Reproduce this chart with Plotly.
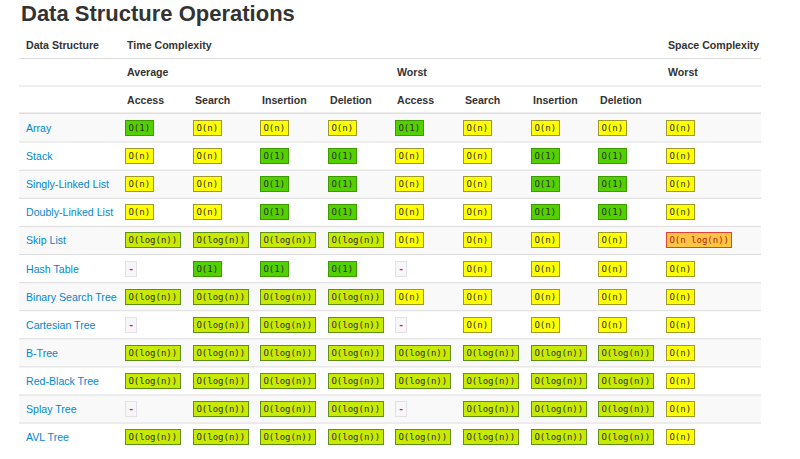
import plotly.graph_objects as go

# --- data ---------------------------------------------------------------
structures = [
    "Array", "Stack", "Singly-Linked List", "Doubly-Linked List", "Skip List",
    "Hash Table", "Binary Search Tree", "Cartesian Tree", "B-Tree",
    "Red-Black Tree", "Splay Tree", "AVL Tree",
]
op_labels = ["Access", "Search", "Insertion", "Deletion",
             "Access", "Search", "Insertion", "Deletion", ""]

L, N, C, D, NL = "O(log(n))", "O(n)", "O(1)", "-", "O(n log(n))"

avg_access = [C, N, N, N, L, D, L, D, L, L, D, L]
avg_search = [N, N, N, N, L, C, L, L, L, L, L, L]
avg_insert = [N, C, C, C, L, C, L, L, L, L, L, L]
avg_delete = [N, C, C, C, L, C, L, L, L, L, L, L]
worst_access = [C, N, N, N, N, D, N, D, L, L, D, L]
worst_search = [N, N, N, N, N, N, N, N, L, L, L, L]
worst_insert = [N, C, C, C, N, N, N, N, L, L, L, L]
worst_delete = [N, C, C, C, N, N, N, N, L, L, L, L]
space_worst = [N, N, N, N, NL, N, N, N, N, N, N, N]

columns = [avg_access, avg_search, avg_insert, avg_delete,
           worst_access, worst_search, worst_insert, worst_delete, space_worst]

# badge style per complexity: fill, border, text colour
badge_style = {
    C: ("#53d000", "#3d9a00", "#2e2e2e"),
    L: ("#c8ea00", "#5f8f1c", "#2e2e2e"),
    N: ("#ffff00", "#9c9a2c", "#2e2e2e"),
    NL: ("#ffc543", "#e0413a", "#b5201c"),
    D: ("#f7f7f9", "#e1e1e8", "#dd1144"),
}

# --- layout constants ---------------------------------------------------
W, H = 800, 459
TABLE_L, TABLE_R = 19, 761
NAME_X = 24
COL_X0, COL_W = 125, 67.6
HEAD_Y = [45, 72, 100]
BODY_TOP, ROW_H = 114, 28.1
SANS = "Liberation Sans"
MONO = "DejaVu Sans Mono"
CHAR_W = 5.4

shapes = []
annotations = []


def text(x, y, s, size=10.6, color="#333333", bold=True):
    annotations.append(dict(
        x=x, y=y, text=s, showarrow=False, xanchor="left", yanchor="middle",
        font=dict(family=SANS, size=size, color=color,
                  weight="bold" if bold else "normal"),
    ))


# title
text(TABLE_L, 13, "Data Structure Operations", size=22)

# header rows
text(NAME_X, HEAD_Y[0], "Data Structure")
text(COL_X0, HEAD_Y[0], "Time Complexity")
text(COL_X0 + 8 * COL_W, HEAD_Y[0], "Space Complexity")
text(COL_X0, HEAD_Y[1], "Average")
text(COL_X0 + 4 * COL_W, HEAD_Y[1], "Worst")
text(COL_X0 + 8 * COL_W, HEAD_Y[1], "Worst")
for j, lab in enumerate(op_labels):
    if lab:
        text(COL_X0 + j * COL_W, HEAD_Y[2], lab)

# header lines
for y, w in [(58.5, 1), (86, 1), (113.5, 2)]:
    shapes.append(dict(type="line", x0=TABLE_L, x1=TABLE_R, y0=y, y1=y,
                       line=dict(color="#dddddd", width=w), layer="below"))

# body rows
for i, name in enumerate(structures):
    top = BODY_TOP + i * ROW_H
    cy = top + ROW_H / 2
    if i % 2 == 0:
        shapes.append(dict(type="rect", x0=TABLE_L, x1=TABLE_R, y0=top,
                           y1=top + ROW_H, fillcolor="#f9f9f9",
                           line=dict(width=0), layer="below"))
    if i > 0:
        shapes.append(dict(type="line", x0=TABLE_L, x1=TABLE_R, y0=top, y1=top,
                           line=dict(color="#dddddd", width=1), layer="below"))
    text(NAME_X, cy, name, color="#0088cc", bold=False)
    for j, col in enumerate(columns):
        val = col[i]
        fill, border, fg = badge_style[val]
        annotations.append(dict(
            x=COL_X0 + j * COL_W, y=cy, text=val, showarrow=False,
            xanchor="left", yanchor="middle", align="center",
            width=len(val) * CHAR_W + 3, height=12,
            bgcolor=fill, bordercolor=border, borderwidth=1, borderpad=1,
            font=dict(family=MONO, size=9, color=fg,
                      weight="bold" if val == D else "normal"),
        ))

fig = go.Figure()
fig.update_layout(
    width=W, height=H,
    margin=dict(l=0, r=0, t=0, b=0),
    paper_bgcolor="white", plot_bgcolor="white",
    xaxis=dict(range=[0, W], visible=False, fixedrange=True),
    yaxis=dict(range=[H, 0], visible=False, fixedrange=True),
    shapes=shapes, annotations=annotations,
    showlegend=False,
)

# drop the browser's default body margin so the figure sits at the page corner
fig.write_html("out.html", config={"displayModeBar": False},
               post_script="document.body.style.margin='0px';")
